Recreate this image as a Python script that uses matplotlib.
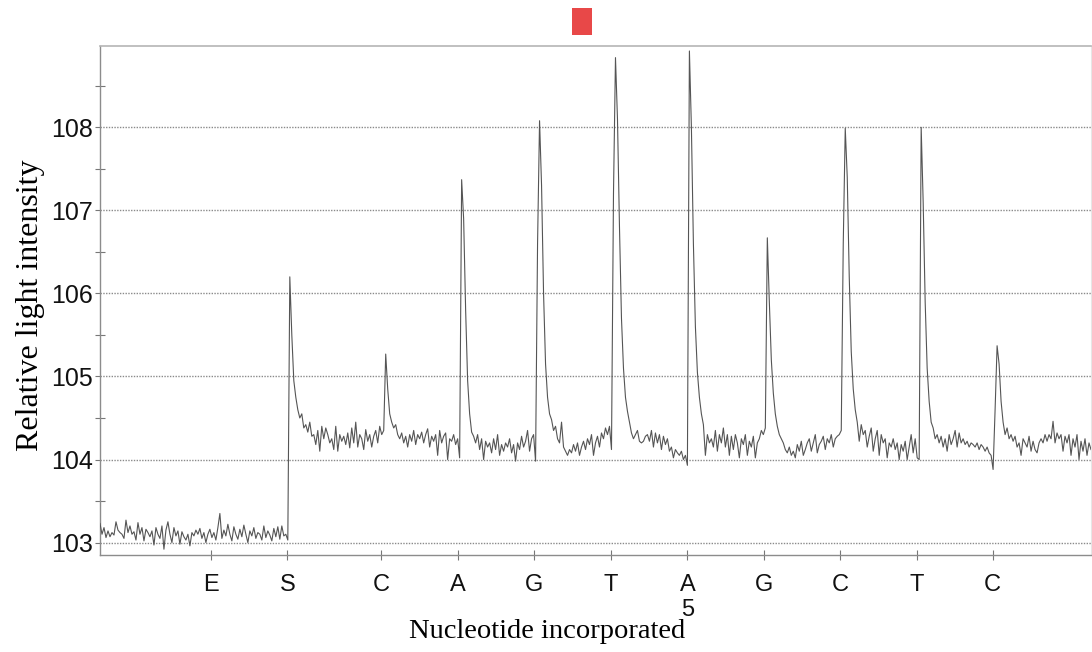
import matplotlib.pyplot as plt
import numpy as np
from matplotlib.patches import Rectangle
from matplotlib.transforms import blended_transform_factory


# light signal, one reading every SAMPLE_STEP seconds, split at each dispensation
SAMPLE_STEP = 0.25

SEG_ES = [
    103.23, 103.10, 103.18, 103.06, 103.14, 103.07, 103.12, 103.09, 103.25, 103.15,
    103.12, 103.10, 103.05, 103.27, 103.12, 103.20, 103.10, 103.13, 103.03, 103.24,
    103.10, 103.18, 103.02, 103.16, 103.12, 103.07, 103.14, 102.97, 103.18, 103.10,
    103.05, 103.20, 102.92, 103.15, 103.25, 103.10, 103.00, 103.18, 103.08, 103.14,
    102.98, 103.13, 103.07, 103.03, 103.10, 102.96, 103.12, 103.08, 103.15, 103.10,
    103.17, 103.05, 103.12, 103.00, 103.10, 103.16, 103.06, 103.12, 103.03, 103.18,
    103.35, 103.05, 103.15, 103.08, 103.22, 103.10, 103.02, 103.19, 103.10, 103.04,
    103.16, 103.07, 103.21, 103.10, 103.00, 103.14, 103.08, 103.18, 103.05, 103.12,
    103.10, 103.03, 103.20, 103.06, 103.14, 103.09, 103.02, 103.17, 103.07, 103.19,
    103.04, 103.20, 103.08, 103.10, 103.03,
]
SEG_SC = [
    106.20, 105.50, 104.95, 104.75, 104.60, 104.50, 104.55, 104.38, 104.42, 104.33,
    104.45, 104.28, 104.30, 104.18, 104.35, 104.10, 104.40, 104.25, 104.38, 104.30,
    104.20, 104.25, 104.12, 104.40, 104.10, 104.30, 104.22, 104.28, 104.18, 104.32,
    104.14, 104.38, 104.20, 104.45, 104.15, 104.30, 104.25, 104.12, 104.36, 104.22,
    104.30, 104.15, 104.28, 104.35, 104.20, 104.40, 104.30, 104.35,
]
SEG_CA = [
    105.27, 104.85, 104.55, 104.45, 104.38, 104.42, 104.30, 104.25, 104.32, 104.20,
    104.28, 104.15, 104.30, 104.22, 104.35, 104.18, 104.30, 104.25, 104.33, 104.20,
    104.30, 104.37, 104.15, 104.28, 104.22, 104.30, 104.05, 104.35, 104.20, 104.28,
    104.32, 104.00, 104.25, 104.22, 104.30, 104.18, 104.25, 104.02,
]
SEG_AG = [
    107.37, 106.90, 105.80, 104.95, 104.55, 104.33, 104.28, 104.20, 104.30, 104.12,
    104.25, 104.00, 104.22, 104.15, 104.20, 104.08, 104.25, 104.12, 104.30, 104.05,
    104.18, 104.10, 104.20, 104.15, 104.25, 104.08, 104.18, 103.98, 104.20, 104.12,
    104.28, 104.15, 104.22, 104.35, 104.10, 104.25, 104.30, 103.98,
]
SEG_GT = [
    106.60, 108.08, 107.30, 106.00, 105.15, 104.75, 104.55, 104.48, 104.35, 104.40,
    104.25, 104.20, 104.45, 104.15, 104.10, 104.05, 104.12, 104.08, 104.18, 104.10,
    104.20, 104.05, 104.15, 104.22, 104.12, 104.25, 104.18, 104.30, 104.05, 104.20,
    104.28, 104.15, 104.32, 104.25, 104.38, 104.30, 104.40, 104.12,
]
SEG_TA = [
    107.20, 108.84, 108.10, 106.80, 105.70, 105.10, 104.75, 104.58, 104.45, 104.32,
    104.25, 104.30, 104.35, 104.22, 104.20, 104.22, 104.28, 104.30, 104.22, 104.35,
    104.15, 104.32, 104.20, 104.30, 104.12, 104.28, 104.18, 104.25, 104.10, 104.15,
    104.02, 104.12, 104.08, 104.05, 104.10, 104.00, 104.05, 103.93,
]
SEG_AG2 = [
    108.92, 108.00, 106.60, 105.60, 105.05, 104.75, 104.55, 104.42, 104.05, 104.30,
    104.20, 104.25, 104.15, 104.35, 104.10, 104.30, 104.20, 104.38, 104.15, 104.30,
    104.05, 104.28, 104.12, 104.30, 104.20, 104.02, 104.25, 104.18, 104.30, 104.05,
    104.22, 104.15, 104.28, 104.02, 104.20, 104.25, 104.35, 104.30, 104.38,
]
SEG_GC = [
    106.67, 105.90, 105.20, 104.80, 104.55, 104.40, 104.30, 104.25, 104.20, 104.12,
    104.08, 104.15, 104.05, 104.10, 104.02, 104.18, 104.10, 104.22, 104.05, 104.12,
    104.20, 104.25, 104.10, 104.20, 104.30, 104.08, 104.18, 104.22, 104.28, 104.12,
    104.25, 104.20, 104.30, 104.15, 104.25, 104.28, 104.30, 104.35,
]
SEG_CT = [
    106.60, 107.99, 107.40, 106.20, 105.30, 104.85, 104.60, 104.45, 104.22, 104.42,
    104.30, 104.35, 104.15, 104.28, 104.38, 104.10, 104.25, 104.35, 104.05, 104.30,
    104.20, 104.25, 104.02, 104.20, 104.15, 104.25, 104.12, 104.20, 104.00, 104.18,
    104.10, 104.22, 104.00, 104.15, 104.30, 104.08, 104.25, 104.02, 104.00,
]
SEG_TC = [
    108.00, 107.10, 105.90, 105.10, 104.70, 104.45, 104.38, 104.25, 104.30, 104.20,
    104.28, 104.15, 104.25, 104.10, 104.30, 104.18, 104.25, 104.35, 104.15, 104.32,
    104.20, 104.25, 104.18, 104.22, 104.15, 104.20, 104.18, 104.15, 104.20, 104.12,
    104.18, 104.15, 104.10, 104.15, 104.08, 104.05, 103.88,
]
SEG_C_END = [
    104.60, 105.37, 105.15, 104.70, 104.45, 104.30, 104.38, 104.25, 104.30, 104.22,
    104.28, 104.15, 104.20, 104.05, 104.25, 104.20, 104.15, 104.28, 104.10, 104.22,
    104.12, 104.08, 104.20, 104.25, 104.20, 104.30, 104.22, 104.30, 104.25, 104.46,
    104.20, 104.32, 104.25, 104.30, 104.10, 104.28, 104.20, 104.30, 104.05, 104.25,
    104.15, 104.30, 104.00, 104.22, 104.10, 104.25, 104.05, 104.20, 104.12,
]

# dispensation order and where each one lands on the time axis
DISPENSATIONS = ["E", "S", "C", "A", "G", "T", "A\n5", "G", "C", "T", "C"]
DISPENSATION_TIMES = [13.9, 23.45, 35.2, 44.8, 54.35, 63.95, 73.5, 83.05, 92.6, 102.2, 111.7]
MARKER_TIME = 60.3

Y_TICKS = [103, 104, 105, 106, 107, 108]
Y_MINOR = [103.5, 104.5, 105.5, 106.5, 107.5, 108.5]


def main():
    signal = np.array(
        SEG_ES + SEG_SC + SEG_CA + SEG_AG + SEG_GT + SEG_TA
        + SEG_AG2 + SEG_GC + SEG_CT + SEG_TC + SEG_C_END
    )
    t = np.arange(len(signal)) * SAMPLE_STEP

    fig = plt.figure(figsize=(10.92, 6.52), dpi=100)
    ax = fig.add_axes([100 / 1092, 97 / 652, 991 / 1092, 509 / 652])

    for y in Y_TICKS:
        ax.axhline(y, color="#8a8a8a", lw=1.0, ls=(0, (1, 1)), zorder=1)

    ax.plot(t, signal, color="#555555", lw=0.8, zorder=3)

    ax.set_xlim(0, 124)
    ax.set_ylim(102.85, 108.98)

    ax.set_yticks(Y_TICKS)
    ax.set_yticks(Y_MINOR, minor=True)
    ax.set_xticks(DISPENSATION_TIMES)
    ax.set_xticklabels(DISPENSATIONS)

    tick_font = {"family": "Liberation Sans"}
    for lab in ax.get_yticklabels():
        lab.set_fontproperties(tick_font)
        lab.set_fontsize(18)
    for lab in ax.get_xticklabels():
        lab.set_fontproperties(tick_font)
        lab.set_fontsize(17)

    ax.tick_params(axis="y", which="major", direction="out", length=3.5,
                   width=0.8, color="#777777", pad=1.5, labelcolor="#111111")
    ax.tick_params(axis="y", which="minor", direction="inout", length=7,
                   width=0.8, color="#777777")
    ax.tick_params(axis="x", which="major", direction="inout", length=6.5,
                   width=0.8, color="#777777", pad=10.5, labelcolor="#111111")

    for side in ["left", "bottom"]:
        ax.spines[side].set_color("#8c8c8c")
        ax.spines[side].set_linewidth(1.0)
    ax.spines["top"].set_color("#b5b5b5")
    ax.spines["top"].set_linewidth(1.2)
    ax.spines["right"].set_color("#e6e6e6")

    ax.set_ylabel("Relative light intensity", family="Liberation Serif", fontsize=23)
    ax.yaxis.set_label_coords(-0.056, 0.49)
    ax.set_xlabel("Nucleotide incorporated", family="Liberation Serif", fontsize=20.5)
    ax.xaxis.set_label_coords(0.4516, -0.125)

    # red marker above the plot frame
    trans = blended_transform_factory(ax.transData, ax.transAxes)
    ax.add_patch(Rectangle((MARKER_TIME - 1.2, 1.0216), 2.4, 0.053, transform=trans,
                           facecolor="#e84848", edgecolor="none", clip_on=False))

    fig.savefig("out.png", dpi=100)
    plt.close(fig)


if __name__ == "__main__":
    main()
